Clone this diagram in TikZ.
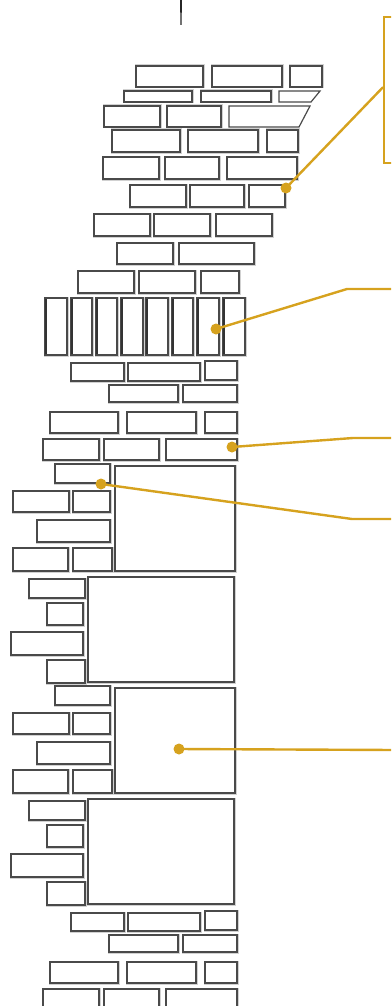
\documentclass[tikz,border=0pt]{standalone}
\usepackage{xcolor}
\usepackage{tikz}
\usetikzlibrary{calc}
\definecolor{mortar}{HTML}{4A4A4A}
\definecolor{ochre}{HTML}{D6A21E}
\tikzset{brick/.style={draw=mortar,line width=1.1pt,fill=white,preaction={draw=black!18,line width=3pt}},post/.style={draw=black!80,line width=1.8pt},callbox/.style={draw=ochre,line width=2.4pt,minimum width=40pt,minimum height=146pt,anchor=north west,inner sep=0pt},pin/.style={circle,fill=ochre,minimum size=11pt,inner sep=0pt},lead/.style={draw=ochre,line width=2.4pt}}
\begin{document}
\begin{tikzpicture}[x=1pt,y=-1pt]
\useasboundingbox (0,0) rectangle (391,1006);
\clip (0,0) rectangle (391,1006);
\fill[black!85] (180,0)--(182,0)--(181.5,25)--(180.5,25)--cycle;
\foreach \a/\b/\c/\d in {136/66/203/87,212/66/282/87,290/66/322/87,124/91/192/102,201/91/271/102,104/106/160/127,167/106/221/127,112/130/180/152,188/130/258/152,267/130/298/152,103/157/159/179,165/157/219/179,227/157/297/179,130/185/186/207,190/185/244/207,249/185/285/207,94/214/150/236,154/214/210/236,216/214/272/236,117/243/173/264,179/243/254/264,78/271/134/293,139/271/195/293,201/271/239/293}
  \draw[brick] (\a,\b) rectangle (\c,\d);
\foreach \a/\b/\c/\e/\d in {279/91/320/311/102,229/106/310/299/127}{
  \fill[white] (\a,\b)--(\c,\b)--(\e,\d)--(\a,\d)--cycle;
  \draw[draw=mortar,line width=1.2pt] (\a,\b)--(\c,\b)--(\e,\d)--(\a,\d)--cycle;}
\foreach \a/\c in {45/67,71/92,96/117,121/143,146/168,172/193,197/219,223/245}{
  \draw[brick] (\a,298) rectangle (\c,355);
  \draw[post] (\a+1,299)--(\a+1,354);}
\foreach \dy in {0,550}
  \foreach \a/\b/\c/\d in {71/363/124/381,128/363/200/381,205/361/237/380,109/385/178/402,183/385/237/402,50/412/118/433,127/412/196/433,205/412/237/433,43/439/99/460,104/439/159/460,166/439/237/460}
    \draw[brick] (\a,\b+\dy) rectangle (\c,\d+\dy);
\foreach \dy in {0,222}{
  \foreach \a/\b/\c/\d in {115/466/235/571,55/464/110/483,13/491/69/512,73/491/110/512,37/520/110/542,13/548/68/571,73/548/112/571,88/577/234/682,29/579/85/598,47/603/83/625,11/632/83/655,47/660/85/683}
    \draw[brick] (\a,\b+\dy) rectangle (\c,\d+\dy);}
\node[callbox] (note) at (383,16) {};
\node[pin] (p1) at (286,188) {};
\node[pin] (p2) at (216,329) {};
\node[pin] (p3) at (232,447) {};
\node[pin] (p4) at (101,484) {};
\node[pin] (p5) at (179,749) {};
\coordinate (k2) at (347,289);\coordinate (e2) at (395,289);
\coordinate (k3) at (353,438);\coordinate (e3) at (395,438);
\coordinate (k4) at (352,519);\coordinate (e4) at (395,519);
\coordinate (e5) at (395,750);
\draw[lead] (p1.center)--([yshift=3pt]note.west);
\draw[lead] (p2.center)--(k2)--(e2);
\draw[lead] (p3.center)--(k3)--(e3);
\draw[lead] (p4.center)--(k4)--(e4);
\draw[lead] (p5.center)--(e5);
\end{tikzpicture}
\end{document}
